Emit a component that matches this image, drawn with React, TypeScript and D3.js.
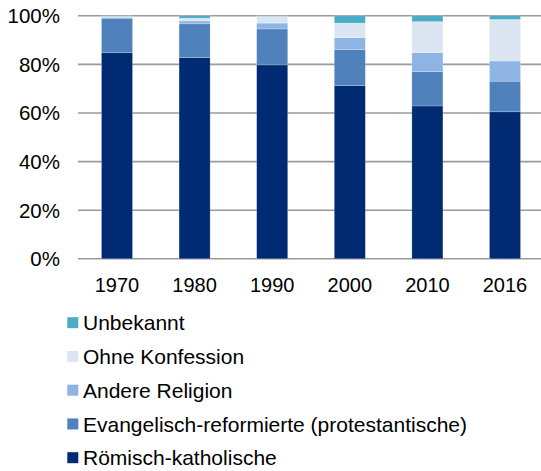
import React from "react";
import * as d3 from "d3";

const years = ["1970", "1980", "1990", "2000", "2010", "2016"];
const seriesNames = [
  "Römisch-katholische",
  "Evangelisch-reformierte (protestantische)",
  "Andere Religion",
  "Ohne Konfession",
  "Unbekannt",
];
const katholisch = [84.8, 82.8, 79.8, 71.3, 62.9, 60.5];
const reformiert = [14.2, 13.9, 14.8, 14.8, 14.1, 12.6];
const andere = [0.4, 1.2, 2.4, 4.9, 7.8, 8.3];
const ohne = [0.4, 1.1, 2.8, 6.0, 12.8, 17.1];
const unbekannt = [0.2, 1.0, 0.2, 3.0, 2.4, 1.5];
const colors = ["#002B73", "#4F81BD", "#8EB4E3", "#DCE6F2", "#4BACC6"];
const yTicks = [0, 20, 40, 60, 80, 100];

export default function App() {
  const W = 541;
  const H = 471;
  const font = "'Liberation Sans', Arial, sans-serif";
  const values = [katholisch, reformiert, andere, ohne, unbekannt];
  const rows = years.map((y, i) => {
    const r: any = { year: y };
    seriesNames.forEach((s, k) => (r[s] = values[k][i]));
    return r;
  });
  const stack = d3.stack<any>().keys(seriesNames)(rows);
  const x = d3.scaleBand().domain(years).range([78.2, 543.8]).paddingInner(0.6).paddingOuter(0.3);
  const y = d3.scaleLinear().domain([0, 100]).range([258.8, 15.8]);
  const legendOrder = [4, 3, 2, 1, 0];
  return (
    <svg width={W} height={H} style={{ position: "absolute", left: 0, top: 0, background: "#fff" }}>
      {yTicks.map((t) => (
        <g key={t}>
          <line x1={78} x2={W} y1={y(t)} y2={y(t)} stroke="#9a9a9a" strokeWidth={1.6} />
          <text x={60} y={y(t)} dy="0.36em" textAnchor="end" fontFamily={font} fontSize={20.5} fill="#000">
            {t}%
          </text>
        </g>
      ))}
      {stack.map((layer, k) => (
        <g key={k} fill={colors[k]}>
          {layer.map((d, i) => (
            <rect
              key={i}
              x={x(years[i])!}
              width={x.bandwidth()}
              y={y(d[1])}
              height={Math.max(0, y(d[0]) - y(d[1]))}
              stroke="rgba(255,255,255,0.35)"
              strokeWidth={0.6}
            />
          ))}
        </g>
      ))}
      {years.map((yr) => (
        <text key={yr} x={x(yr)! + x.bandwidth() / 2} y={285} dy="0.36em" textAnchor="middle" fontFamily={font} fontSize={20} fill="#000">
          {yr}
        </text>
      ))}
      {legendOrder.map((k, i) => {
        const cy = 322.7 + i * 33.75;
        return (
          <g key={k}>
            <rect x={67.3} y={cy - 5.5} width={11} height={11} fill={colors[k]} />
            <text x={83} y={cy} dy="0.36em" fontFamily={font} fontSize={21} fill="#000">
              {seriesNames[k]}
            </text>
          </g>
        );
      })}
    </svg>
  );
}
